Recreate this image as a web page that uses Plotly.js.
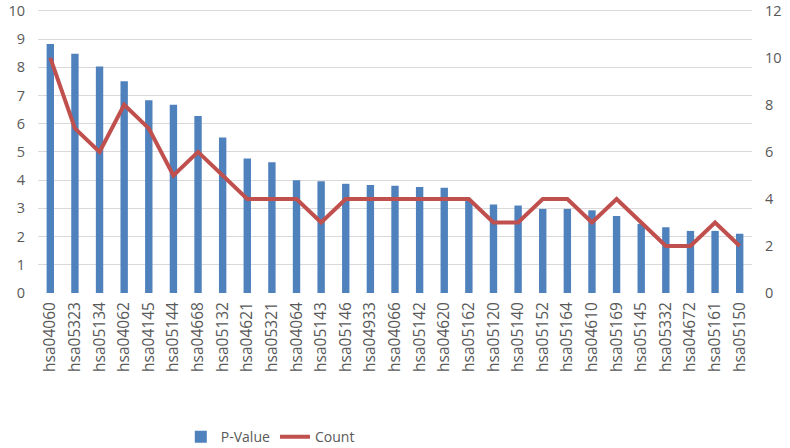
<!DOCTYPE html>
<html><head><meta charset="utf-8">
<script src="https://cdn.plot.ly/plotly-3.0.1.min.js"></script>
<style>html,body{margin:0;padding:0;background:#fff}#chart{width:790px;height:448px}</style>
</head><body><div id="chart"></div>
<script>
const categories = ["hsa04060","hsa05323","hsa05134","hsa04062","hsa04145","hsa05144","hsa04668","hsa05132","hsa04621","hsa05321","hsa04064","hsa05143","hsa05146","hsa04933","hsa04066","hsa05142","hsa04620","hsa05162","hsa05120","hsa05140","hsa05152","hsa05164","hsa04610","hsa05169","hsa05145","hsa05332","hsa04672","hsa05161","hsa05150"];
const pValues = [8.82,8.48,8.03,7.50,6.83,6.67,6.27,5.51,4.77,4.63,4.00,3.96,3.87,3.83,3.80,3.76,3.73,3.30,3.14,3.10,2.98,2.98,2.93,2.73,2.45,2.33,2.20,2.20,2.10];
const counts = [10,7,6,8,7,5,6,5,4,4,4,3,4,4,4,4,4,4,3,3,4,4,3,4,3,2,2,3,2];
const leftTicks = [0,1,2,3,4,5,6,7,8,9,10];
const rightTicks = [0,2,4,6,8,10,12];

const font = {family: "Open Sans, Liberation Sans, sans-serif", color: "#595959", size: 14};
const data = [
  {type: "bar", x: categories, y: pValues, name: "P-Value", marker: {color: "#4F81BD", line: {width: 0}}, yaxis: "y"},
  {type: "scatter", mode: "lines", x: categories, y: counts, name: "Count", line: {color: "#C0504D", width: 4}, yaxis: "y2"}
];
const layout = {
  width: 790, height: 448,
  margin: {l: 38, r: 38, t: 8, b: 155},
  paper_bgcolor: "#fff", plot_bgcolor: "#fff",
  font: font,
  bargap: 0.7,
  showlegend: true,
  legend: {orientation: "h", x: 0.2, xanchor: "left", yref: "container", y: 0.024, yanchor: "middle", itemwidth: 30, tracegroupgap: 0, font: {family: font.family, size: 14, color: "#595959"}},
  xaxis: {tickangle: -90, tickfont: {size: 15.5}, showgrid: false, showline: false, ticks: "", zeroline: false, automargin: false, ticklabelstandoff: 5},
  yaxis: {range: [0, 10.1], tickvals: leftTicks, gridcolor: "#D9D9D9", gridwidth: 1, zeroline: false, tickfont: {size: 14.5}, ticks: "", showline: false, automargin: false, ticklabeloverflow: "allow", ticklabelstandoff: 12},
  yaxis2: {range: [0, 12.12], tickvals: rightTicks, overlaying: "y", side: "right", showgrid: false, zeroline: false, tickfont: {size: 14.5}, ticks: "", showline: false, automargin: false, ticklabeloverflow: "allow", ticklabelstandoff: 12}
};
Plotly.newPlot("chart", data, layout, {displayModeBar: false, staticPlot: true});
</script></body></html>
